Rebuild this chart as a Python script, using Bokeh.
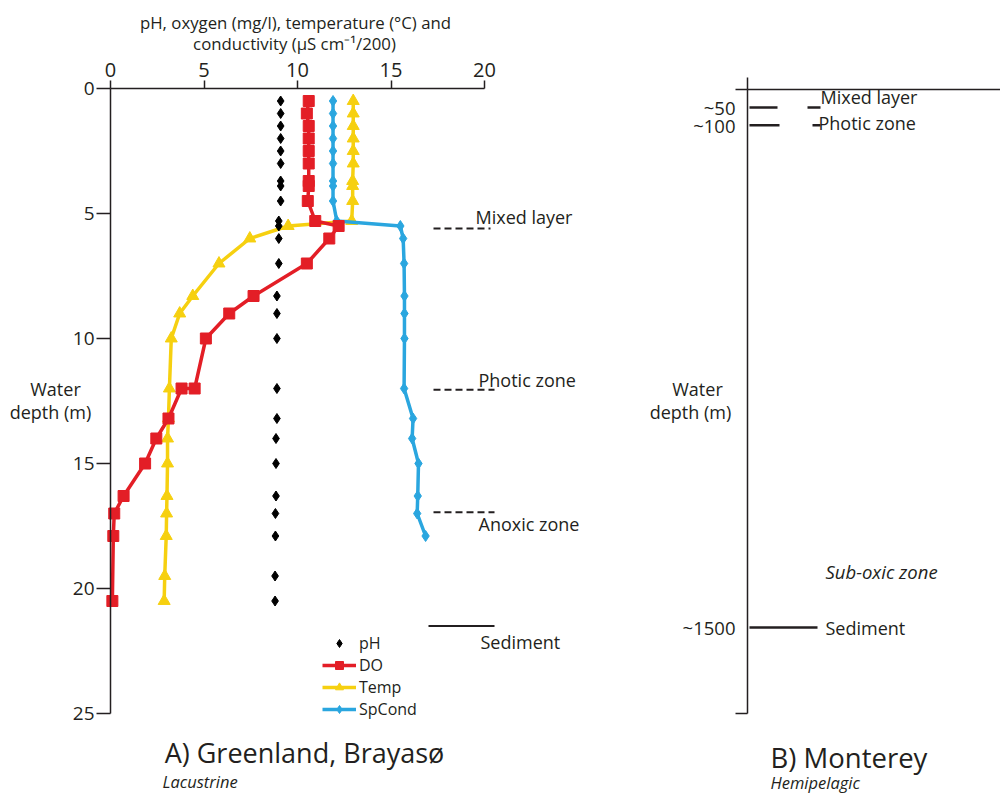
from bokeh.plotting import figure
from bokeh.models import Range1d, FixedTicker, Legend, LegendItem
from bokeh.layouts import row
from bokeh.embed import file_html
from bokeh.resources import INLINE
from bokeh.core.properties import value

# ---------------- data ----------------
ph_depth = [0.5, 1.0, 1.5, 2.0, 2.5, 3.0, 3.7, 3.9, 4.5, 5.3, 5.5, 6.0, 7.0,
            8.3, 9.0, 10.0, 12.0, 13.2, 14.0, 15.0, 16.3, 17.0, 17.9, 19.5, 20.5]
ph = [9.1, 9.1, 9.1, 9.1, 9.1, 9.1, 9.1, 9.1, 9.1, 9.0, 9.0, 9.0, 9.0,
      8.9, 8.9, 8.9, 8.9, 8.9, 8.85, 8.85, 8.85, 8.82, 8.82, 8.8, 8.8]

do_depth = [0.5, 1.0, 1.5, 2.0, 2.5, 3.0, 3.7, 3.9, 4.5, 5.3, 5.5, 6.0, 7.0,
            8.3, 9.0, 10.0, 12.0, 12.0, 13.2, 14.0, 15.0, 16.3, 17.0, 17.9, 20.5]
do = [10.6, 10.5, 10.6, 10.6, 10.6, 10.6, 10.6, 10.6, 10.55, 10.95, 12.2, 11.7, 10.5,
      7.65, 6.35, 5.1, 4.5, 3.8, 3.1, 2.45, 1.85, 0.7, 0.2, 0.15, 0.1]

temp_depth = [0.5, 1.0, 1.5, 2.0, 2.5, 3.0, 3.7, 3.9, 4.5, 5.3, 5.5, 6.0, 7.0,
              8.3, 9.0, 10.0, 12.0, 13.2, 14.0, 15.0, 16.3, 17.0, 17.9, 19.5, 20.5]
temp = [12.98, 12.98, 12.98, 12.98, 12.98, 12.98, 12.95, 12.95, 12.95, 12.9, 9.5, 7.45, 5.8,
        4.4, 3.7, 3.25, 3.15, 3.1, 3.05, 3.05, 3.02, 3.0, 2.98, 2.9, 2.87]

sp_depth = [0.5, 1.0, 1.5, 2.0, 2.5, 3.0, 3.7, 3.9, 4.5, 5.3, 5.5, 6.0, 7.0,
            8.3, 9.0, 10.0, 12.0, 13.2, 14.0, 15.0, 16.3, 17.0, 17.9]
spcond = [11.9, 11.9, 11.9, 11.9, 11.9, 11.9, 11.9, 11.9, 11.9, 12.1, 15.5, 15.65, 15.7,
          15.72, 15.72, 15.72, 15.7, 16.18, 16.13, 16.47, 16.43, 16.4, 16.85]

x_ticks = [0, 5, 10, 15, 20]
depth_ticks = [0, 5, 10, 15, 20, 25]

zone_names = ["Mixed layer", "Photic zone", "Anoxic zone"]
zone_depths = [5.6, 12.05, 16.95]
sediment_label = "Sediment"
sediment_depth = 21.5

mont_depths = [50, 100, 1500]
mont_tick_labels = ["~50", "~100", "~1500"]
mont_zone_names = ["Mixed layer", "Photic zone"]
mont_suboxic = "Sub-oxic zone"
mont_bottom = 1740

title_a = "A) Greenland, Brayasø"
sub_a = "Lacustrine"
title_b = "B) Monterey"
sub_b = "Hemipelagic"
x_title_1 = "pH, oxygen (mg/l), temperature (°C) and"
x_title_2 = "conductivity (µS cm⁻¹/200)"
y_title_1 = "Water"
y_title_2 = "depth (m)"

# ---------------- styles ----------------
FONT = "Open Sans"
INK = "#231F20"
RED = "#E31E26"
YEL = "#F6D010"
BLU = "#2AA6DF"

H = 793
PXX = 18.7   # px per unit (panel A, x)
PXY = 25.0   # px per m (panel A, depth)
LEFT1, TOP1, W1 = 110, 88, 640


def ax(px):
    return (px - LEFT1) / PXX


def ay(py):
    return (py - TOP1) / PXY


def style_axis(a, size):
    a.axis_line_color = INK
    a.axis_line_width = 1.5
    a.major_tick_line_color = INK
    a.major_tick_line_width = 1.5
    a.minor_tick_line_color = INK
    a.minor_tick_line_width = 1.5
    a.major_label_text_font = FONT
    a.major_label_text_font_size = size
    a.major_label_text_color = INK


def txt(p, xs, ys, texts, size, align="left", style="normal"):
    p.text(x=xs, y=ys, text=texts, text_font=value(FONT), text_font_size=size,
           text_font_style=style, text_color=INK, text_align=align,
           text_baseline="middle")


def base_fig(width, xr, yr):
    p = figure(width=width, height=H, x_range=xr, y_range=yr,
               x_axis_location="above", output_backend="svg", toolbar_location=None,
               min_border=0, min_border_left=0, min_border_top=0,
               min_border_right=0, min_border_bottom=0)
    p.grid.visible = False
    p.outline_line_color = None
    p.background_fill_color = "white"
    p.border_fill_color = "white"
    return p


# ---------------- panel A ----------------
p1 = base_fig(W1, Range1d(-LEFT1 / PXX, (W1 - LEFT1) / PXX),
              Range1d((H - TOP1) / PXY, -TOP1 / PXY))

xa = p1.xaxis[0]
xa.fixed_location = 0
xa.ticker = FixedTicker(ticks=x_ticks, minor_ticks=[])
xa.bounds = (0, 20)
xa.major_tick_out = 8
xa.major_tick_in = 0
xa.major_label_standoff = 4
style_axis(xa, "20px")

ya = p1.yaxis[0]
ya.fixed_location = 0
ya.ticker = FixedTicker(ticks=depth_ticks, minor_ticks=[])
ya.bounds = (0, 25)
ya.major_tick_out = 14
ya.major_tick_in = 0
ya.major_label_standoff = 2
style_axis(ya, "19px")

r_t_l = p1.line(temp, temp_depth, line_color=YEL, line_width=3.5)
r_t_m = p1.scatter(temp, temp_depth, marker="triangle", size=12, color=YEL)
r_s_l = p1.line(spcond, sp_depth, line_color=BLU, line_width=3.5)
r_s_m = p1.scatter(spcond, sp_depth, marker="diamond", size=11, color=BLU)
r_d_l = p1.line(do, do_depth, line_color=RED, line_width=3.5)
r_d_m = p1.scatter(do, do_depth, marker="square", size=11, color=RED)
r_ph = p1.scatter(ph, ph_depth, marker="diamond", size=10, color="black")

legend = Legend(items=[
    LegendItem(label="pH", renderers=[r_ph]),
    LegendItem(label="DO", renderers=[r_d_l, r_d_m]),
    LegendItem(label="Temp", renderers=[r_t_l, r_t_m]),
    LegendItem(label="SpCond", renderers=[r_s_l, r_s_m]),
], location=(LEFT1 + 202, 63))
legend.background_fill_alpha = 0
legend.border_line_alpha = 0
legend.label_text_font = FONT
legend.label_text_font_size = "16px"
legend.label_text_color = INK
legend.glyph_width = 34
legend.glyph_height = 20
legend.label_height = 20
legend.spacing = 0
legend.padding = 10
legend.margin = 0
legend.label_standoff = 3
p1.add_layout(legend)

# zone boundaries (dashed) and sediment (solid)
p1.segment(x0=[ax(433)] * len(zone_depths), y0=zone_depths,
           x1=[ax(490), ax(494), ax(494)], y1=zone_depths,
           line_color=INK, line_width=2, line_dash="7 4")
p1.segment(x0=[ax(428)], y0=[sediment_depth], x1=[ax(494)], y1=[sediment_depth],
           line_color=INK, line_width=2)
zone_off = [-11.5 / PXY, -10.0 / PXY, 11.5 / PXY]
txt(p1, [ax(475), ax(478), ax(478)], [d + o for d, o in zip(zone_depths, zone_off)],
    zone_names, "18px")
txt(p1, [ax(480)], [sediment_depth + 15.5 / PXY], [sediment_label], "18px")

txt(p1, [ax(304)], [ay(752)], [title_a], "27px", align="center")
txt(p1, [ax(162)], [ay(781)], [sub_a], "16.5px", style="italic")

txt(p1, [ax(295), ax(294)], [ay(22), ay(43)], [x_title_1, x_title_2], "16.8px", align="center")
txt(p1, [ax(55), ax(50)], [ay(388), ay(411)], [y_title_1, y_title_2], "18px", align="center")

# ---------------- panel B ----------------
LEFT2, TOP2, W2 = 107, 89, 360
PY2 = 538.0 / 1500.0   # px per m
X0_2 = W1 + LEFT2      # absolute px of the axis line


def bx(px):
    return px - X0_2


def by(py):
    return (py - TOP2) / PY2


p2 = base_fig(W2, Range1d(-LEFT2, W2 - LEFT2),
              Range1d((H - TOP2) / PY2, -TOP2 / PY2))

xb = p2.xaxis[0]
xb.fixed_location = 0
xb.ticker = FixedTicker(ticks=[], minor_ticks=[0])
xb.bounds = (0, W2 - LEFT2)
xb.major_tick_out = 0
xb.major_tick_in = 0
xb.minor_tick_out = 12
xb.minor_tick_in = 0
style_axis(xb, "16px")

yb = p2.yaxis[0]
yb.fixed_location = 0
yb.ticker = FixedTicker(ticks=mont_depths, minor_ticks=[0, mont_bottom])
yb.major_label_overrides = dict(zip(mont_depths, mont_tick_labels))
yb.bounds = (0, mont_bottom)
yb.major_tick_out = 0
yb.major_tick_in = 0
yb.minor_tick_out = 12
yb.minor_tick_in = 0
yb.major_label_standoff = 0
style_axis(yb, "18.5px")

p2.segment(x0=[bx(749)] * 3, y0=mont_depths, x1=[bx(777), bx(779), bx(817)], y1=mont_depths,
           line_color=INK, line_width=2.5)
p2.segment(x0=[bx(807), bx(812)], y0=mont_depths[:2], x1=[bx(820), bx(820)], y1=mont_depths[:2],
           line_color=INK, line_width=2.5)
txt(p2, [bx(820), bx(818)], [mont_depths[0] - 10 / PY2, mont_depths[1] - 2 / PY2],
    mont_zone_names, "18px")
txt(p2, [bx(825)], [mont_depths[2] - 56 / PY2], [mont_suboxic], "18.5px", style="italic")
txt(p2, [bx(825)], [mont_depths[2]], [sediment_label], "18px")
txt(p2, [bx(770)], [by(757)], [title_b], "27.5px")
txt(p2, [bx(770)], [by(782)], [sub_b], "16.5px", style="italic")
txt(p2, [bx(697), bx(690)], [by(388), by(411)], [y_title_1, y_title_2], "18px", align="center")

layout = row(p1, p2)
open("out.html", "w").write(file_html(layout, INLINE))
